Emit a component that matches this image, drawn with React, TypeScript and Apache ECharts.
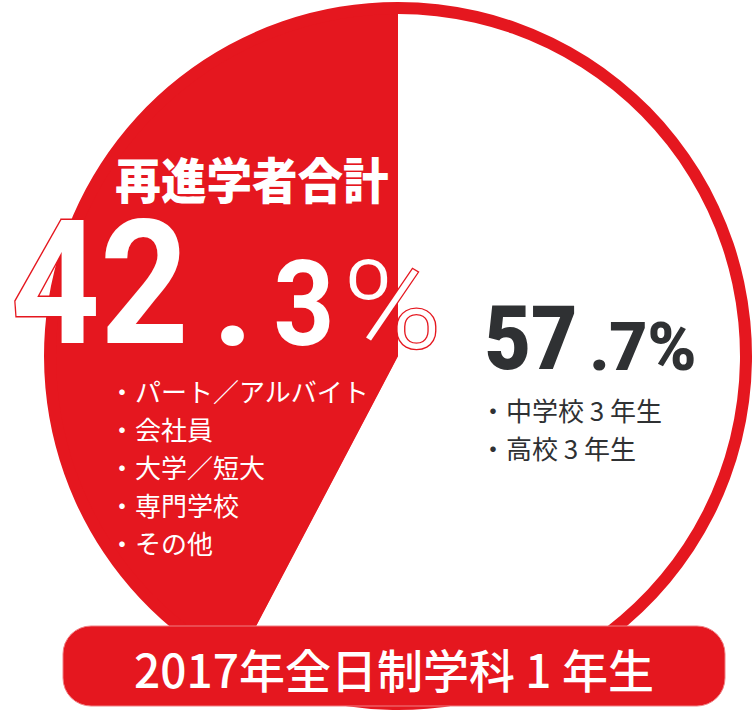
import React, { useEffect, useRef } from "react";
import * as echarts from "echarts";

const sliceNames = ["中学校3年生・高校3年生", "再進学者"];
const sliceValues = [57.7, 42.3];
const leftTitle = "再進学者合計";
const leftItems = ["パート／アルバイト", "会社員", "大学／短大", "専門学校", "その他"];
const rightItems = ["中学校 3 年生", "高校 3 年生"];
const footerLabel = "2017年全日制学科 1 年生";

const RED = "#e5171f";
const DARK = "#2f3133";
const CJK = '"Noto Sans CJK JP"';

export default function App() {
  const ref = useRef<HTMLDivElement>(null);

  useEffect(() => {
    if (!ref.current) return;
    const chart = echarts.init(ref.current, undefined, { renderer: "svg" });

    const [bigInt, bigDec] = sliceValues[1].toFixed(1).split(".");
    const [smallInt, smallDec] = sliceValues[0].toFixed(1).split(".");

    const graphics: any[] = [];

    // footer box
    graphics.push({
      type: "rect",
      shape: { x: 63, y: 626, width: 662, height: 80, r: 28 },
      style: { fill: RED, stroke: "#f07f83", lineWidth: 1 },
      z: 10,
    });
    graphics.push({
      type: "text",
      x: 394,
      y: 668,
      style: {
        text: footerLabel,
        fill: "#ffffff",
        font: `500 46px ${CJK}`,
        align: "center",
        verticalAlign: "middle",
      },
      z: 11,
    });

    // left title
    graphics.push({
      type: "text",
      x: 252,
      y: 178,
      scaleX: 0.93,
      style: {
        text: leftTitle,
        fill: "#ffffff",
        font: `900 49px ${CJK}`,
        align: "center",
        verticalAlign: "middle",
      },
      z: 11,
    });

    // big 42.3%
    const outline = { fill: "#ffffff", stroke: RED, lineWidth: 3, strokeFirst: true };
    graphics.push({
      type: "text",
      x: 100,
      y: 284,
      scaleX: 0.9,
      style: { ...outline, text: bigInt, font: "bold 172px Roboto", align: "center", verticalAlign: "middle" },
      z: 11,
    });
    graphics.push({
      type: "text",
      x: 233,
      y: 302,
      style: { ...outline, text: ".", font: "900 125px Roboto", align: "center", verticalAlign: "middle" },
      z: 11,
    });
    graphics.push({
      type: "text",
      x: 304,
      y: 305,
      scaleX: 0.9,
      style: { ...outline, text: bigDec, font: "bold 118px Roboto", align: "center", verticalAlign: "middle" },
      z: 11,
    });
    graphics.push({
      type: "text",
      x: 392,
      y: 306,
      scaleX: 1.1,
      style: { ...outline, lineWidth: 2.5, text: "%", font: "300 122px Roboto", align: "center", verticalAlign: "middle" },
      z: 11,
    });

    // left bullet list
    leftItems.forEach((t, i) => {
      graphics.push({
        type: "text",
        x: 109,
        y: 390 + i * 38.2,
        style: {
          text: "・" + t,
          fill: "#ffffff",
          font: `26px ${CJK}`,
          align: "left",
          verticalAlign: "middle",
        },
        z: 11,
      });
    });

    // 57.7%
    graphics.push({
      type: "text",
      x: 531,
      y: 339,
      scaleX: 0.9,
      style: { text: smallInt, fill: DARK, font: "900 89px Roboto", align: "center", verticalAlign: "middle" },
      z: 11,
    });
    graphics.push({
      type: "text",
      x: 643,
      y: 347,
      style: { text: "." + smallDec + "%", fill: DARK, font: "900 66px Roboto", align: "center", verticalAlign: "middle" },
      z: 11,
    });

    rightItems.forEach((t, i) => {
      graphics.push({
        type: "text",
        x: 480,
        y: 409 + i * 38.5,
        style: {
          text: "・" + t,
          fill: DARK,
          font: `26px ${CJK}`,
          align: "left",
          verticalAlign: "middle",
        },
        z: 11,
      });
    });

    const pieData = (colors: string[]) =>
      sliceValues.map((v, i) => ({ value: v, name: sliceNames[i], itemStyle: { color: colors[i] } }));

    chart.setOption({
      animation: false,
      backgroundColor: "#ffffff",
      series: [
        {
          type: "pie",
          center: [398, 356],
          radius: 354,
          startAngle: 90,
          clockwise: true,
          silent: true,
          label: { show: false },
          labelLine: { show: false },
          emphasis: { disabled: true },
          data: pieData([RED, RED]),
          z: 1,
        },
        {
          type: "pie",
          center: [398, 356],
          radius: 342,
          startAngle: 90,
          clockwise: true,
          silent: true,
          label: { show: false },
          labelLine: { show: false },
          emphasis: { disabled: true },
          data: pieData(["#ffffff", RED]),
          z: 2,
        },
      ],
      graphic: graphics,
    });

    return () => chart.dispose();
  }, []);

  return (
    <div
      ref={ref}
      style={{ position: "absolute", left: 0, top: 0, width: 754, height: 711, background: "#ffffff" }}
    />
  );
}
